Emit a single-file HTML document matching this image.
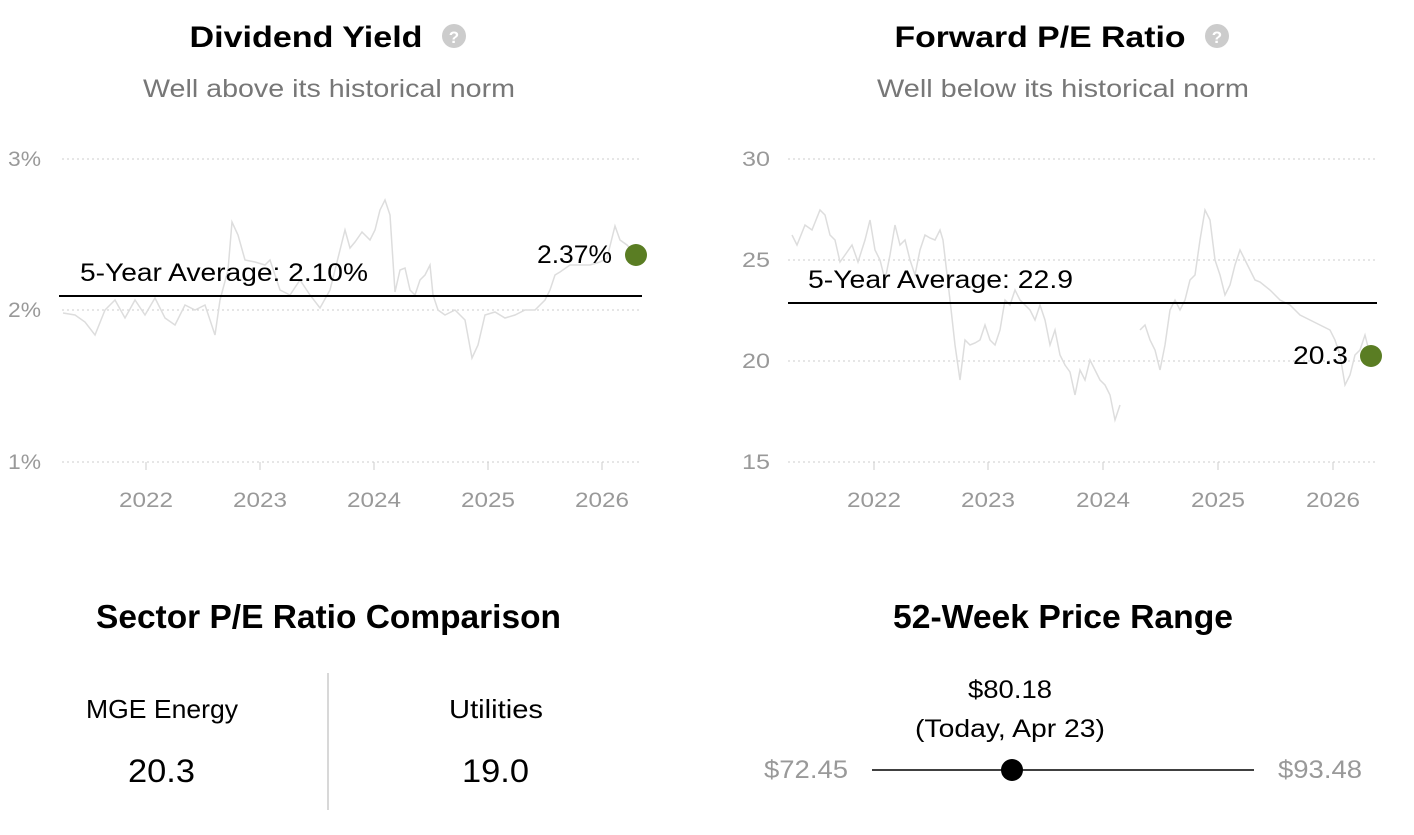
<!DOCTYPE html>
<html><head><meta charset="utf-8"><style>
body{margin:0;width:1414px;height:830px;background:#fff;font-family:"Liberation Sans",sans-serif;overflow:hidden}
svg text{font-family:"Liberation Sans",sans-serif}
</style></head><body>
<svg width="1414" height="830" xmlns="http://www.w3.org/2000/svg">
<text x="306" y="47" font-size="30" font-weight="bold" text-anchor="middle" fill="#000" textLength="233" lengthAdjust="spacingAndGlyphs">Dividend Yield</text>
<circle cx="454" cy="36" r="12" fill="#ccc"/><text x="454" y="43" font-size="17" font-weight="bold" fill="#fff" text-anchor="middle">?</text>
<text x="329" y="97" font-size="25" fill="#777" text-anchor="middle" textLength="372" lengthAdjust="spacingAndGlyphs">Well above its historical norm</text>
<text x="1040" y="47" font-size="30" font-weight="bold" text-anchor="middle" fill="#000" textLength="291" lengthAdjust="spacingAndGlyphs">Forward P/E Ratio</text>
<circle cx="1217" cy="36" r="12" fill="#ccc"/><text x="1217" y="43" font-size="17" font-weight="bold" fill="#fff" text-anchor="middle">?</text>
<text x="1063" y="97" font-size="25" fill="#777" text-anchor="middle" textLength="372" lengthAdjust="spacingAndGlyphs">Well below its historical norm</text>

<g stroke="#ccc" stroke-dasharray="2,3" stroke-width="1">
<line x1="62" y1="159" x2="642" y2="159"/><line x1="62" y1="310" x2="642" y2="310"/><line x1="62" y1="462" x2="642" y2="462"/>
<line x1="788" y1="159" x2="1375" y2="159"/><line x1="788" y1="260" x2="1375" y2="260"/><line x1="788" y1="361" x2="1375" y2="361"/><line x1="788" y1="462" x2="1375" y2="462"/>
</g>
<g font-size="21" fill="#999">
<text x="8" y="166" textLength="33" lengthAdjust="spacingAndGlyphs">3%</text><text x="8" y="317" textLength="33" lengthAdjust="spacingAndGlyphs">2%</text><text x="8" y="469" textLength="33" lengthAdjust="spacingAndGlyphs">1%</text>
<text x="742" y="166" textLength="28" lengthAdjust="spacingAndGlyphs">30</text><text x="742" y="267" textLength="28" lengthAdjust="spacingAndGlyphs">25</text><text x="742" y="368" textLength="28" lengthAdjust="spacingAndGlyphs">20</text><text x="742" y="469" textLength="28" lengthAdjust="spacingAndGlyphs">15</text>
</g>
<g stroke="#ccc" stroke-width="1">
<line x1="146" y1="462" x2="146" y2="470"/><line x1="260" y1="462" x2="260" y2="470"/><line x1="374" y1="462" x2="374" y2="470"/><line x1="488" y1="462" x2="488" y2="470"/><line x1="602" y1="462" x2="602" y2="470"/>
<line x1="874" y1="462" x2="874" y2="470"/><line x1="988" y1="462" x2="988" y2="470"/><line x1="1103" y1="462" x2="1103" y2="470"/><line x1="1218" y1="462" x2="1218" y2="470"/><line x1="1333" y1="462" x2="1333" y2="470"/>
</g>
<g font-size="21" fill="#999" text-anchor="middle">
<text x="146" y="507" textLength="54" lengthAdjust="spacingAndGlyphs">2022</text><text x="260" y="507" textLength="54" lengthAdjust="spacingAndGlyphs">2023</text><text x="374" y="507" textLength="54" lengthAdjust="spacingAndGlyphs">2024</text><text x="488" y="507" textLength="54" lengthAdjust="spacingAndGlyphs">2025</text><text x="602" y="507" textLength="54" lengthAdjust="spacingAndGlyphs">2026</text>
<text x="874" y="507" textLength="54" lengthAdjust="spacingAndGlyphs">2022</text><text x="988" y="507" textLength="54" lengthAdjust="spacingAndGlyphs">2023</text><text x="1103" y="507" textLength="54" lengthAdjust="spacingAndGlyphs">2024</text><text x="1218" y="507" textLength="54" lengthAdjust="spacingAndGlyphs">2025</text><text x="1333" y="507" textLength="54" lengthAdjust="spacingAndGlyphs">2026</text>
</g>
<polyline fill="none" stroke="#ddd" stroke-width="1.5" points="63,313 75,315 85,322 95,335 105,310 115,300 125,318 135,300 145,315 155,298 165,318 175,325 185,305 195,310 205,305 215,335 220,300 228,270 232,222 238,235 245,260 255,262 265,265 270,260 280,290 290,295 300,280 310,295 320,308 330,290 340,250 345,230 350,248 355,242 362,232 370,240 375,230 380,210 385,200 390,215 395,292 400,270 405,268 410,290 415,295 420,280 425,275 430,265 433,295 438,310 445,315 455,310 465,320 472,358 478,345 485,315 495,312 505,318 515,315 525,310 535,310 545,300 550,290 555,275 560,272 570,265 580,265 590,265 600,262 607,258 615,226 620,240 627,245 636,255"/>
<polyline fill="none" stroke="#ddd" stroke-width="1.5" points="792,235 797,245 805,225 812,230 820,210 825,215 830,235 835,240 840,262 845,255 852,245 858,262 865,240 870,220 875,250 880,260 885,280 890,255 895,225 900,245 905,240 910,260 915,275 920,250 925,235 930,238 935,240 940,230 943,240 950,300 955,345 960,380 965,340 970,345 975,343 980,340 985,325 990,340 995,345 1000,330 1005,300 1010,305 1015,290 1020,300 1025,305 1030,310 1035,320 1040,305 1045,320 1050,345 1055,330 1060,355 1065,365 1070,372 1075,395 1080,370 1085,380 1090,360 1095,370 1100,380 1105,385 1110,395 1115,420 1120,405"/>
<polyline fill="none" stroke="#ddd" stroke-width="1.5" points="1140,330 1145,325 1150,340 1155,350 1160,370 1165,345 1170,310 1175,300 1180,310 1185,300 1190,280 1195,275 1200,240 1205,210 1210,220 1215,260 1220,275 1225,295 1230,285 1235,265 1240,250 1245,260 1250,270 1255,280 1260,282 1270,290 1280,300 1290,305 1300,315 1310,320 1320,325 1330,330 1335,340 1340,355 1345,385 1350,375 1355,355 1360,350 1365,335 1370,355"/>
<line x1="59" y1="296" x2="642" y2="296" stroke="#000" stroke-width="2"/>
<line x1="788" y1="303" x2="1377" y2="303" stroke="#000" stroke-width="2"/>
<text x="80" y="281" font-size="25" fill="#000" textLength="288" lengthAdjust="spacingAndGlyphs">5-Year Average: 2.10%</text>
<text x="808" y="288" font-size="25" fill="#000" textLength="265" lengthAdjust="spacingAndGlyphs">5-Year Average: 22.9</text>
<text x="537" y="263" font-size="25" fill="#000" textLength="75" lengthAdjust="spacingAndGlyphs">2.37%</text>
<circle cx="636" cy="255" r="11" fill="#5a7d23"/>
<text x="1293" y="364" font-size="25" fill="#000" textLength="55" lengthAdjust="spacingAndGlyphs">20.3</text>
<circle cx="1371" cy="356" r="11" fill="#5a7d23"/>

<text x="96" y="628" font-size="33" font-weight="bold" fill="#000" textLength="465" lengthAdjust="spacingAndGlyphs">Sector P/E Ratio Comparison</text>
<text x="86" y="718" font-size="26" fill="#000" textLength="152" lengthAdjust="spacingAndGlyphs">MGE Energy</text>
<text x="128" y="782" font-size="32" fill="#000" textLength="67" lengthAdjust="spacingAndGlyphs">20.3</text>
<line x1="328" y1="673" x2="328" y2="810" stroke="#ccc" stroke-width="1.5"/>
<text x="449" y="718" font-size="26" fill="#000" textLength="94" lengthAdjust="spacingAndGlyphs">Utilities</text>
<text x="462" y="782" font-size="32" fill="#000" textLength="67" lengthAdjust="spacingAndGlyphs">19.0</text>

<text x="893" y="628" font-size="33" font-weight="bold" fill="#000" textLength="340" lengthAdjust="spacingAndGlyphs">52-Week Price Range</text>
<text x="968" y="698" font-size="25" fill="#000" textLength="84" lengthAdjust="spacingAndGlyphs">$80.18</text>
<text x="915" y="737" font-size="25" fill="#000" textLength="190" lengthAdjust="spacingAndGlyphs">(Today, Apr 23)</text>
<line x1="872" y1="770" x2="1254" y2="770" stroke="#000" stroke-width="1.5"/>
<circle cx="1012" cy="770" r="11" fill="#000"/>
<text x="764" y="778" font-size="25" fill="#999" textLength="84" lengthAdjust="spacingAndGlyphs">$72.45</text>
<text x="1278" y="778" font-size="25" fill="#999" textLength="84" lengthAdjust="spacingAndGlyphs">$93.48</text>
</svg>
</body></html>
